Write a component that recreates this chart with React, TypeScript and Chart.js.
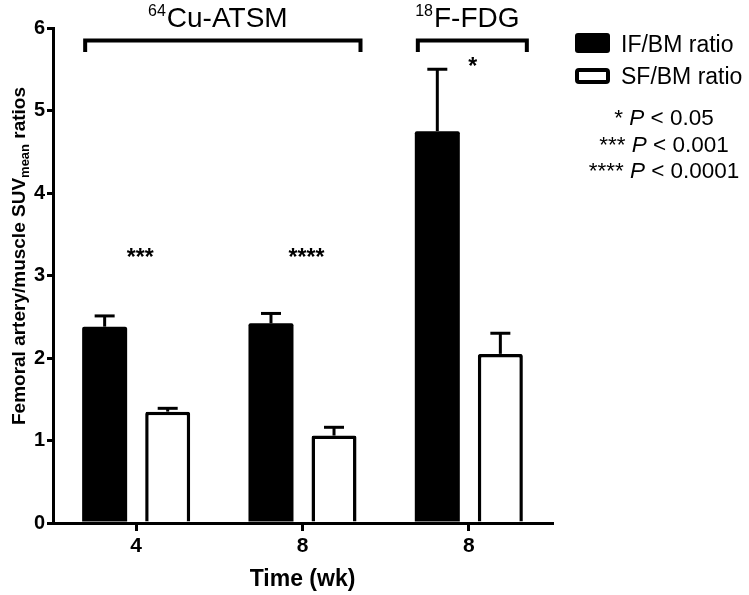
import React, { useEffect, useRef } from "react";
import { Chart, registerables } from "chart.js";

Chart.register(...registerables);

const categories = ["4", "8", "8"];
const ifValues = [2.38, 2.42, 4.75];
const ifErrors = [0.13, 0.12, 0.75];
const sfValues = [1.35, 1.06, 2.05];
const sfErrors = [0.04, 0.10, 0.25];
const starLabels = ["***", "****", "*"];
const starLevels = [3.28, 3.28, 5.6];
const groupSups = ["64", "18"];
const groupNames = ["Cu-ATSM", "F-FDG"];
const groupFrom = [0, 2];
const groupTo = [1, 2];
const bracketTop = 5.85;
const bracketLeg = 5.71;
const pStars = ["*", "***", "****"];
const pThresholds = ["< 0.05", "< 0.001", "< 0.0001"];
const yTicks = [0, 1, 2, 3, 4, 5, 6];

const FONT = "'Liberation Sans', Arial, Helvetica, sans-serif";

const overlayPlugin = {
  id: "overlay",
  afterDatasetsDraw(chart: any) {
    const ctx = chart.ctx;
    const x = chart.scales.x;
    const y = chart.scales.y;
    ctx.save();
    ctx.strokeStyle = "#000";
    ctx.fillStyle = "#000";
    ctx.lineCap = "butt";

    // error bars
    const errs = [ifErrors, sfErrors];
    const vals = [ifValues, sfValues];
    [0, 1].forEach((di) => {
      const meta = chart.getDatasetMeta(di);
      meta.data.forEach((bar: any, i: number) => {
        const top = y.getPixelForValue(vals[di][i]);
        const cap = y.getPixelForValue(vals[di][i] + errs[di][i]);
        ctx.lineWidth = 3;
        ctx.beginPath();
        ctx.moveTo(bar.x, top);
        ctx.lineTo(bar.x, cap);
        ctx.stroke();
        ctx.beginPath();
        ctx.moveTo(bar.x - 10, cap);
        ctx.lineTo(bar.x + 10, cap);
        ctx.stroke();
      });
    });

    // stars
    ctx.font = `bold 23px ${FONT}`;
    ctx.textAlign = "center";
    ctx.textBaseline = "alphabetic";
    starLabels.forEach((s, i) => {
      const cx = x.getPixelForValue(i) + 4;
      const cy = y.getPixelForValue(starLevels[i]);
      ctx.fillText(s, cx, cy + 0.55 * 23);
    });

    // brackets and group labels
    groupNames.forEach((name, g) => {
      const l = x.getPixelForValue(groupFrom[g]) - 51;
      const r = x.getPixelForValue(groupTo[g]) + 58;
      const t = y.getPixelForValue(bracketTop);
      const b = y.getPixelForValue(bracketLeg);
      ctx.lineWidth = 4;
      ctx.lineJoin = "miter";
      ctx.beginPath();
      ctx.moveTo(l, b);
      ctx.lineTo(l, t);
      ctx.lineTo(r, t);
      ctx.lineTo(r, b);
      ctx.stroke();
      const supFont = `16px ${FONT}`;
      const mainFont = `28px ${FONT}`;
      ctx.font = supFont;
      const sw = ctx.measureText(groupSups[g]).width + 1;
      ctx.font = mainFont;
      const mw = ctx.measureText(name).width;
      const cx = (l + r) / 2 - 5;
      const start = cx - (sw + mw) / 2;
      const base = t - 13;
      ctx.textAlign = "left";
      ctx.font = supFont;
      ctx.fillText(groupSups[g], start, base - 11);
      ctx.font = mainFont;
      ctx.fillText(name, start + sw, base);
    });

    // legend
    const lx = 575;
    ctx.fillStyle = "#000";
    ctx.beginPath();
    (ctx as any).roundRect(lx, 33, 35, 20, 3);
    ctx.fill();
    ctx.lineWidth = 4;
    ctx.fillStyle = "#fff";
    ctx.beginPath();
    (ctx as any).roundRect(lx + 2, 70, 31, 12, 2);
    ctx.fill();
    ctx.stroke();
    ctx.fillStyle = "#000";
    ctx.font = `23px ${FONT}`;
    ctx.textAlign = "left";
    ctx.textBaseline = "alphabetic";
    ctx.fillText(chart.data.datasets[0].label, 621, 52);
    ctx.fillText(chart.data.datasets[1].label, 621, 84);

    // p-value notes
    const pc = 664;
    pStars.forEach((s, i) => {
      const base = 125 + i * 26.5;
      const a = s + " ";
      const pf = `italic 22.5px ${FONT}`;
      const nf = `22.5px ${FONT}`;
      ctx.font = nf;
      const aw = ctx.measureText(a).width;
      const cw = ctx.measureText(" " + pThresholds[i]).width;
      ctx.font = pf;
      const pw = ctx.measureText("P").width;
      let sx = pc - (aw + pw + cw) / 2;
      ctx.font = nf;
      ctx.fillText(a, sx, base);
      sx += aw;
      ctx.font = pf;
      ctx.fillText("P", sx, base);
      sx += pw;
      ctx.font = nf;
      ctx.fillText(" " + pThresholds[i], sx, base);
    });

    // y title with subscript
    ctx.save();
    ctx.translate(25, 256);
    ctx.rotate(-Math.PI / 2);
    const tf = `bold 19px ${FONT}`;
    const sf = `bold 13px ${FONT}`;
    const p1 = "Femoral artery/muscle SUV";
    const p2 = "mean";
    const p3 = " ratios";
    ctx.font = tf;
    const w1 = ctx.measureText(p1).width;
    const w3 = ctx.measureText(p3).width;
    ctx.font = sf;
    const w2 = ctx.measureText(p2).width;
    let sx = -(w1 + w2 + w3) / 2;
    ctx.textAlign = "left";
    ctx.font = tf;
    ctx.fillText(p1, sx, 0);
    sx += w1;
    ctx.font = sf;
    ctx.fillText(p2, sx, 4);
    sx += w2;
    ctx.font = tf;
    ctx.fillText(p3, sx, 0);
    ctx.restore();

    // x title
    ctx.font = `bold 23px ${FONT}`;
    ctx.textAlign = "center";
    ctx.fillText("Time (wk)", (chart.chartArea.left + chart.chartArea.right) / 2, 586);

    ctx.restore();
  },
};

export default function App() {
  const ref = useRef<HTMLCanvasElement>(null);
  useEffect(() => {
    if (!ref.current) return;
    const chart = new Chart(ref.current, {
      type: "bar",
      data: {
        labels: categories,
        datasets: [
          {
            label: "IF/BM ratio",
            data: ifValues,
            backgroundColor: "#000",
            borderColor: "#000",
            borderWidth: 0,
            borderRadius: 2,
            borderSkipped: "start",
          },
          {
            label: "SF/BM ratio",
            data: sfValues,
            backgroundColor: "#fff",
            borderColor: "#000",
            borderWidth: 3.5,
            borderRadius: 2,
            borderSkipped: "start",
          },
        ],
      },
      options: {
        responsive: false,
        animation: false,
        datasets: { bar: { categoryPercentage: 0.758, barPercentage: 0.714 } },
        layout: { padding: { left: 0, top: 28, right: 197, bottom: 0 } },
        plugins: { legend: { display: false }, tooltip: { enabled: false } },
        scales: {
          x: {
            type: "category",
            afterFit: (s: any) => {
              s.height = 72;
            },
            grid: {
              offset: false,
              drawOnChartArea: false,
              drawTicks: true,
              tickLength: 8,
              color: "#000",
              lineWidth: 3,
            },
            border: { display: true, color: "#000", width: 3 },
            ticks: {
              color: "#000",
              font: { family: FONT, size: 21, weight: "bold" },
              padding: 3,
            },
          },
          y: {
            min: 0,
            max: 6,
            afterFit: (s: any) => {
              s.width = 53;
            },
            afterBuildTicks: (s: any) => {
              s.ticks = yTicks.map((v) => ({ value: v }));
            },
            grid: {
              drawOnChartArea: false,
              drawTicks: true,
              tickLength: 6,
              color: "#000",
              lineWidth: 3,
            },
            border: { display: true, color: "#000", width: 3 },
            ticks: {
              color: "#000",
              font: { family: FONT, size: 20, weight: "bold" },
              padding: 2,
            },
          },
        },
      },
      plugins: [overlayPlugin],
    });
    return () => chart.destroy();
  }, []);
  return (
    <div style={{ position: "absolute", left: 0, top: 0, width: 749, height: 595, background: "#fff" }}>
      <canvas ref={ref} width={749} height={595} style={{ display: "block" }} />
    </div>
  );
}
